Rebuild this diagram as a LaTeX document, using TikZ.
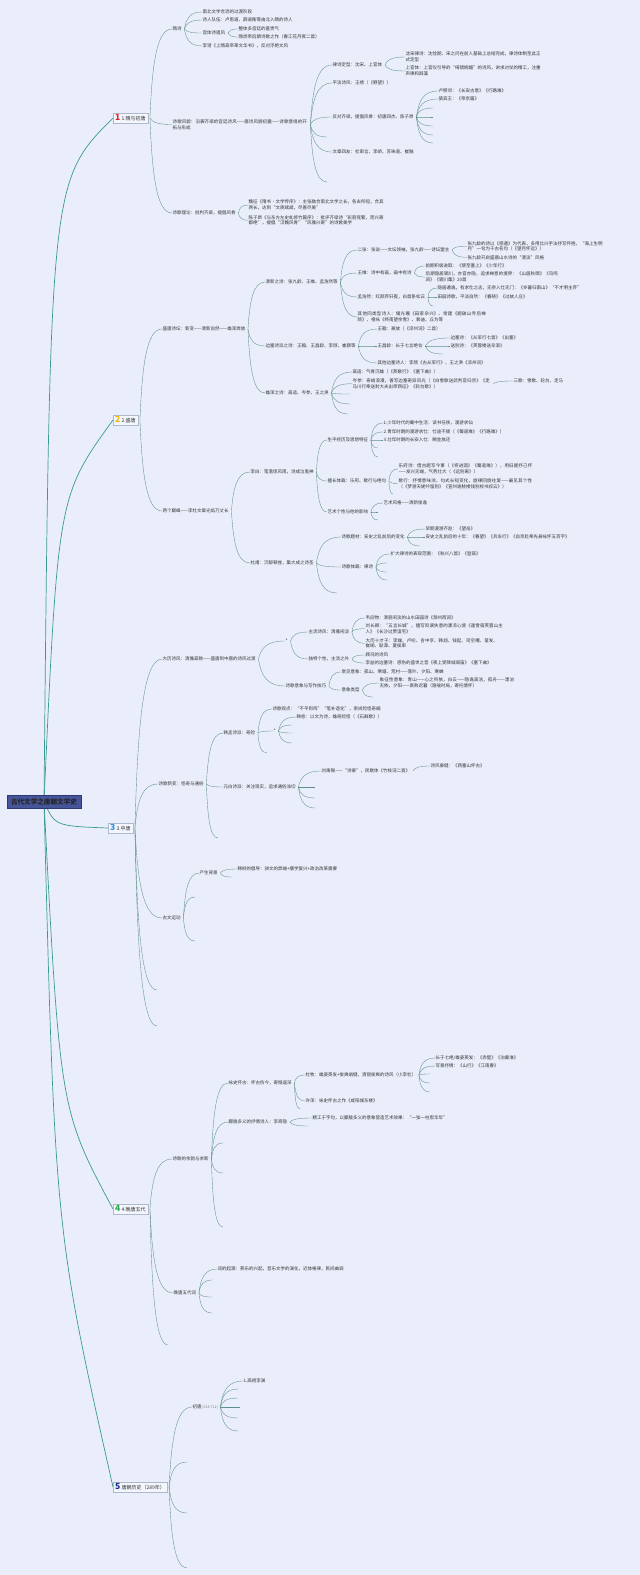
\documentclass[tikz,border=0pt]{standalone}
\usepackage{fontspec}
\setmainfont{Noto Sans CJK SC}
\XeTeXlinebreaklocale "zh"
\XeTeXlinebreakskip=0pt plus 1pt
\usetikzlibrary{calc}
\definecolor{bgc}{HTML}{E9EEFA}
\definecolor{subc}{HTML}{5E8F8B}
\definecolor{mainc}{HTML}{3A9A92}
\definecolor{txtc}{HTML}{333333}
\definecolor{boxf}{HTML}{F3F6FC}
\definecolor{boxd}{HTML}{AFB9CC}
\definecolor{rootf}{HTML}{46549A}
\definecolor{rootd}{HTML}{2C3775}
\definecolor{ca}{HTML}{E0262B}
\definecolor{cb}{HTML}{F2B705}
\definecolor{cc}{HTML}{2A8FE3}
\definecolor{cd}{HTML}{2FA84F}
\definecolor{ce}{HTML}{1D2C8F}
\pgfdeclarelayer{back}
\pgfdeclarelayer{lines}
\pgfsetlayers{back,lines,main}
\tikzset{
  tx/.style={anchor=west, inner sep=0.5pt, text=txtc, font=\fontsize{4.5}{5.6}\selectfont},
  tw/.style={tx, text width=#1, align=left},
  tw/.default=135pt,
  mainbox/.style={anchor=west, draw=boxd, fill=boxf, line width=0.4pt, inner xsep=2pt, inner ysep=1pt, minimum height=10pt, font=\fontsize{5}{6}\selectfont, text=txtc},
  rootbox/.style={draw=rootd, fill=rootf, line width=0.5pt, minimum width=74pt, minimum height=13pt, inner sep=1pt, font=\fontsize{6.6}{8}\selectfont\bfseries, text=black!85},
  subl/.style={draw=subc, line width=0.35pt},
  mainl/.style={draw=mainc, line width=0.7pt}
}
\newcommand\numicon[2]{{\color{#1}\fontsize{8.5}{8.5}\selectfont\bfseries #2}\hspace{1.2pt}}
\newcommand\fanm[2]{\begin{pgfonlayer}{lines}\foreach \cc in {#2}{\draw[subl] let \p1=([xshift=2pt]#1.east), \p2=(\cc) in (\p1) .. controls ({\x1+0.1*(\x2-\x1)},{\y1+0.6*(\y2-\y1)}) and ({\x1+0.3*(\x2-\x1)},\y2) .. (\p2);}\end{pgfonlayer}}
\begin{document}
\begin{tikzpicture}[x=1pt,y=-1pt]
\begin{pgfonlayer}{back}
\fill[bgc] (0,0) rectangle (640,1575);
\end{pgfonlayer}
\useasboundingbox (0,0) rectangle (640,1575);

% root and main nodes
\node[rootbox] (root) at (44,801.5) {古代文学之唐朝文学史};
\node[mainbox] (M1) at (113,118) {\numicon{ca}{1}1.隋与初唐};
\node[mainbox] (M2) at (113,420) {\numicon{cb}{2}2.盛唐};
\node[mainbox] (M3) at (108,828) {\numicon{cc}{3}3.中唐};
\node[mainbox] (M4) at (113,1209) {\numicon{cd}{4}4.晚唐五代};
\node[mainbox] (M5) at (113,1487) {\numicon{ce}{5}唐朝历史（289年）};

\begin{pgfonlayer}{lines}
\draw[mainl] (root.center) .. controls (50,181) .. (M1.west);
\draw[mainl] (root.center) .. controls (58,496) .. (M2.west);
\draw[mainl] (root.center) .. controls (55,826) .. (M3.west);
\draw[mainl] (root.center) .. controls (60,1110) .. (M4.west);
\draw[mainl] (root.center) .. controls (55,1230) .. (M5.west);
\end{pgfonlayer}

% ---------- 1 隋与初唐
\node[tx] (A1) at (172,29) {隋诗};
\node[tx] (A1a) at (202,12) {南北文学合流的过渡阶段};
\node[tx] (A1b) at (202,20) {诗人队伍：卢思道、薛道衡等由北入隋的诗人};
\node[tx] (A1c) at (202,33) {宫体诗遗风};
\node[tx] (A1c1) at (238,29) {整体多宫廷的富贵气};
\node[tx] (A1c2) at (238,37) {隋炀帝后期诗歌之作（春江花月夜二首）};
\node[tx] (A1d) at (202,46) {李谔《上隋高帝革文华书》，反对浮艳文风};
\node[tw] (A2) at (172,124.5) {诗歌风貌：沿袭齐梁的宫廷诗风——唐诗风貌初露——诗歌意境的开拓与形成};
\node[tx] (A2a) at (332,65) {律诗定型：沈宋、上官体};
\node[tw] (A2a1) at (405,57) {沈宋律诗：沈佺期、宋之问在前人基础上总结完成，律诗体制至此正式定型};
\node[tw] (A2a2) at (405,71) {上官体：上官仪引导的“绮错婉媚”的诗风，讲求对仗的精工，注重声律和辞藻};
\node[tx] (A2b) at (332,83) {平淡诗风：王绩（《野望》）};
\node[tx] (A2c) at (332,117) {反对齐梁，提倡风骨：初唐四杰、陈子昂};
\node[tx] (A2c1) at (438,91) {卢照邻：《长安古意》《行路难》};
\node[tx] (A2c2) at (438,99) {骆宾王：《帝京篇》};
\coordinate (A2cE1) at (433,108);
\coordinate (A2cE2) at (433,117);
\coordinate (A2cE3) at (433,126);
\coordinate (A2cE4) at (433,135);
\coordinate (A2cE5) at (433,143);
\node[tx] (A2d) at (332,152) {文章四友：杜审言、李峤、苏味道、崔融};
\coordinate (A2E1) at (327,137);
\coordinate (A2E2) at (327,182);
\node[tx] (A3) at (172,213) {诗歌理论：批判齐梁，提倡风骨};
\node[tw] (A3a) at (248,205) {魏征《隋书·文学传序》：主张融合南北文学之长，各去所短，合其两长，达到“文质斌斌，尽善尽美”};
\node[tw] (A3b) at (248,220.3) {陈子昂《与东方左史虬修竹篇序》：批评齐梁诗“彩丽竞繁，而兴寄都绝”，提倡“汉魏风骨”“风雅兴寄”的诗歌美学};

\fanm{M1}{A1.west,A2.west,A3.west}
\fanm{A1}{A1a.west,A1b.west,A1c.west,A1d.west}
\fanm{A1c}{A1c1.west,A1c2.west}
\fanm{A2}{A2a.west,A2b.west,A2c.west,A2E1,A2d.west,A2E2}
\fanm{A2a}{A2a1.west,A2a2.west}
\fanm{A2c}{A2c1.west,A2c2.west,A2cE1,A2cE2,A2cE3,A2cE4,A2cE5}
\fanm{A3}{A3a.west,A3b.west}

% ---------- 2 盛唐
\node[tx] (B1) at (162,329) {盛唐诗坛：新变——清新自然——雄浑奔放};
\node[tx] (B1a) at (265,282) {清新之诗：张九龄、王维、孟浩然等};
\node[tx] (B1a1) at (357,250) {二张：张说——文坛领袖，张九龄——诗坛盟主};
\node[tw] (B1a1a) at (467,246.2) {张九龄的诗以《感遇》为代表，多用比兴手法抒写怀抱，“海上生明月”一句为千古名句（《望月怀远》）};
\node[tx] (B1a1b) at (467,257.3) {张九龄开启盛唐山水诗的“清淡”风格};
\node[tx] (B1a2) at (357,273) {王维：诗中有画，画中有诗};
\node[tx] (B1a2a) at (425,266) {前期积极进取：《使至塞上》《少年行》};
\node[tw=133pt] (B1a2b) at (425,277) {后期隐居辋川，亦官亦隐，追求禅意的境界：《山居秋暝》《鸟鸣涧》《辋川集》20首};
\node[tx] (B1a3) at (357,297) {孟浩然：红颜弃轩冕，白首卧松云};
\node[tx] (B1a3a) at (437,288) {隐居遁逸，有求仕之志，无奈入仕无门：《岁暮归南山》“不才明主弃”};
\node[tx] (B1a3b) at (437,297) {田园诗歌，平淡自然：《春晓》《过故人庄》};
\coordinate (B1a3E) at (433,306);
\node[tw=131pt] (B1a4) at (357,317) {其他同类型诗人：储光羲《田家杂兴》、常建《题破山寺后禅院》、祖咏《终南望余雪》、裴迪、丘为等};
\node[tx] (B1b) at (265,346) {边塞诗派之诗：王翰、王昌龄、李颀、崔颢等};
\node[tx] (B1b1) at (377,329) {王翰：豪放（《凉州词》二首）};
\node[tx] (B1b2) at (377,346) {王昌龄：长于七言绝句};
\node[tx] (B1b2a) at (450,338) {边塞诗：《从军行七首》《出塞》};
\node[tx] (B1b2b) at (450,346) {送别诗：《芙蓉楼送辛渐》};
\coordinate (B1b2E) at (443,354);
\node[tx] (B1b3) at (377,363) {其他边塞诗人：李颀《古从军行》、王之涣《凉州词》};
\node[tx] (B1c) at (265,393) {雄浑之诗：高适、岑参、王之涣};
\node[tx] (B1c1) at (352,372) {高适：气骨沉雄（《燕歌行》《塞下曲》）};
\node[tw=138pt] (B1c2) at (352,383.7) {岑参：奇峭浪漫，善写边塞奇异风光（《白雪歌送武判官归京》《走马川行奉送封大夫出师西征》《轮台歌》）};
\node[tx] (B1c2a) at (513,381) {三歌：雪歌、轮台、走马};
\coordinate (B1cE1) at (350,394);
\coordinate (B1cE2) at (350,404);
\coordinate (B1cE3) at (348,414);

\node[tx] (B2) at (162,511) {两个巅峰——李杜文章光焰万丈长};
\node[tx] (B2a) at (250,472) {李白：笔落惊风雨，诗成泣鬼神};
\node[tx] (B2a1) at (327,440) {生平经历及思想特征};
\node[tx] (B2a1a) at (383,423) {1.少年时代的蜀中生活：读书任侠，漫游求仙};
\node[tx] (B2a1b) at (383,432) {2.青年时期的漫游求仕：仕途不顺（《蜀道难》《行路难》）};
\node[tx] (B2a1c) at (383,440) {3.壮年时期的长安入仕：赐金放还};
\coordinate (B2a1E1) at (378,448);
\coordinate (B2a1E2) at (378,457);
\node[tx] (B2a2) at (327,481) {擅长体裁：乐府、歌行与绝句};
\node[tw] (B2a2a) at (398,468.8) {乐府诗：借古题写今事（《将进酒》《蜀道难》），用旧题抒己怀——发兴无端，气势壮大（《远别离》）};
\node[tw] (B2a2b) at (398,483.5) {歌行：抒情意味浓，句式长短变化，旋律回旋往复——最见其个性（《梦游天姥吟留别》《宣州谢朓楼饯别校书叔云》）};
\coordinate (B2a2E) at (393,494);
\node[tx] (B2a3) at (327,512) {艺术个性与他的影响};
\node[tx] (B2a3a) at (383,503) {艺术风格——清新俊逸};
\coordinate (B2a3E1) at (378,512);
\coordinate (B2a3E2) at (378,520);
\node[tx] (B2b) at (250,563) {杜甫：沉郁顿挫，集大成之诗圣};
\node[tx] (B2b1) at (341,537) {诗歌题材：安史之乱前后的变化};
\node[tx] (B2b1a) at (425,529) {早期漫游齐赵：《望岳》};
\node[tx] (B2b1b) at (425,537) {安史之乱前后的十年：《春望》《兵车行》《自京赴奉先县咏怀五百字》};
\coordinate (B2b1E) at (420,546);
\node[tx] (B2b2) at (341,567) {诗歌体裁：律诗};
\node[tx] (B2b2a) at (390,554) {扩大律诗的表现范围：《秋兴八首》《登高》};
\coordinate (B2b2E1) at (387,563);
\coordinate (B2b2E2) at (387,572);
\coordinate (B2b2E3) at (387,580);
\coordinate (B2bE) at (337,593);

\fanm{M2}{B1.west,B2.west}
\fanm{B1}{B1a.west,B1b.west,B1c.west}
\fanm{B1a}{B1a1.west,B1a2.west,B1a3.west,B1a4.west}
\fanm{B1a1}{B1a1a.west,B1a1b.west}
\fanm{B1a2}{B1a2a.west,B1a2b.west}
\fanm{B1a3}{B1a3a.west,B1a3b.west,B1a3E}
\fanm{B1b}{B1b1.west,B1b2.west,B1b3.west}
\fanm{B1b2}{B1b2a.west,B1b2b.west,B1b2E}
\fanm{B1c}{B1c1.west,B1c2.west,B1cE1,B1cE2,B1cE3}
\fanm{B1c2}{B1c2a.west}
\fanm{B2}{B2a.west,B2b.west}
\fanm{B2a}{B2a1.west,B2a2.west,B2a3.west}
\fanm{B2a1}{B2a1a.west,B2a1b.west,B2a1c.west,B2a1E1,B2a1E2}
\fanm{B2a2}{B2a2a.west,B2a2b.west,B2a2E}
\fanm{B2a3}{B2a3a.west,B2a3E1,B2a3E2}
\fanm{B2b}{B2b1.west,B2b2.west,B2bE}
\fanm{B2b1}{B2b1a.west,B2b1b.west,B2b1E}
\fanm{B2b2}{B2b2a.west,B2b2E1,B2b2E2,B2b2E3}

% ---------- 3 中唐
\node[tx] (C1) at (162,659) {大历诗风：清雅高致——盛唐到中唐的诗风过渡};
\node[tx] (C1a) at (285,641) {*};
\node[tx] (C1a1) at (308,632) {主流诗风：清雅闲淡};
\node[tx] (C1a1a) at (365,618) {韦应物：清丽闲淡的山水田园诗《滁州西涧》};
\node[tw=138pt] (C1a1b) at (365,628.7) {刘长卿：“五言长城”，擅写贬谪失意的凄凉心境《逢雪宿芙蓉山主人》《长沙过贾谊宅》};
\node[tw=133pt] (C1a1c) at (365,643.3) {大历十才子：李端、卢纶、吉中孚、韩翃、钱起、司空曙、苗发、崔峒、耿湋、夏侯审};
\node[tx] (C1a2) at (308,659) {独特个性，主流之外};
\node[tx] (C1a2a) at (365,655) {顾况的诗风};
\node[tx] (C1a2b) at (365,663) {李益的边塞诗：感伤的盛世之音《夜上受降城闻笛》《塞下曲》};
\node[tx] (C1b) at (285,686) {诗歌意象与写作技巧};
\node[tx] (C1b1) at (341,672) {常见意象：孤山、寒塘、荒村——落叶、夕阳、寒蝉};
\node[tx] (C1b2) at (341,690) {意象类型};
\node[tw=136pt] (C1b2a) at (379,683) {象征性意象：青山——心之所依，白云——隐逸高洁，孤舟——漂泊无依，夕阳——衰败迟暮（隐喻时局，寄托情怀）};
\coordinate (C1b2E) at (373,697);

\node[tx] (C2) at (158,784) {诗歌新变：怪奇与通俗};
\node[tx] (C2a) at (223,733) {韩孟诗派：奇险};
\node[tx] (C2a1) at (272,709) {诗歌观点：“不平则鸣”“笔补造化”，崇尚险怪奇崛};
\node[tx] (C2a2) at (273,731) {*};
\node[tx] (C2a2a) at (296,717) {韩愈：以文为诗，雄奇险怪（《石鼓歌》）};
\coordinate (C2a2E1) at (292,725);
\coordinate (C2a2E2) at (292,733);
\coordinate (C2a2E3) at (292,743);
\coordinate (C2aE) at (267,753);
\node[tx] (C2b) at (223,787) {元白诗派：关注现实，追求通俗浅切};
\node[tx] (C2b1) at (321,771) {刘禹锡——“诗豪”，民歌体《竹枝词二首》};
\node[tx] (C2b1a) at (430,766) {诗风豪健：《西塞山怀古》};
\coordinate (C2bE1) at (315,787);
\coordinate (C2bE2) at (315,798);
\coordinate (C2bE3) at (315,808);
\coordinate (C2E) at (218,838);

\node[tx] (C3) at (162,918) {古文运动};
\node[tx] (C3a) at (199,873) {产生背景};
\node[tx] (C3a1) at (237,869) {韩柳的倡导：骈文的弊端+儒学复兴+政治改革需要};
\coordinate (C3aE) at (232,877);
\coordinate (C3E1) at (195,897);
\coordinate (C3E2) at (195,941);
\coordinate (M3E1) at (157,990);
\coordinate (M3E2) at (157,1026);

\fanm{M3}{C1.west,C2.west,C3.west,M3E1,M3E2}
\fanm{C1}{C1a.west,C1b.west}
\fanm{C1a}{C1a1.west,C1a2.west}
\fanm{C1a1}{C1a1a.west,C1a1b.west,C1a1c.west}
\fanm{C1a2}{C1a2a.west,C1a2b.west}
\fanm{C1b}{C1b1.west,C1b2.west}
\fanm{C1b2}{C1b2a.west,C1b2E}
\fanm{C2}{C2a.west,C2b.west,C2E}
\fanm{C2a}{C2a1.west,C2a2.west,C2aE}
\fanm{C2a2}{C2a2a.west,C2a2E1,C2a2E2,C2a2E3}
\fanm{C2b}{C2b1.west,C2bE1,C2bE2,C2bE3}
\fanm{C2b1}{C2b1a.west}
\fanm{C3}{C3a.west,C3E1,C3E2}
\fanm{C3a}{C3a1.west,C3aE}

% ---------- 4 晚唐五代
\node[tx] (D1) at (172,1159) {诗歌的余韵与求新};
\node[tx] (D1a) at (228,1083) {咏史怀古：怀古伤今，寄慨遥深};
\node[tx] (D1a1) at (305,1075) {杜牧：雄姿英发+俊爽峭健，清丽俊爽的诗风（小李杜）};
\node[tx] (D1a1a) at (435,1058) {长于七绝/雄姿英发：《赤壁》《泊秦淮》};
\node[tx] (D1a1b) at (435,1066) {写景抒情：《山行》《江南春》};
\coordinate (D1a1E1) at (430,1074);
\coordinate (D1a1E2) at (430,1083);
\coordinate (D1a1E3) at (430,1092);
\node[tx] (D1a2) at (305,1101) {许浑：咏史怀古之作《咸阳城东楼》};
\coordinate (D1aE) at (300,1109);
\node[tx] (D1b) at (228,1122) {朦胧多义的抒情诗人：李商隐};
\node[tx] (D1b1) at (312,1118) {精工于字句，以朦胧多义的意象营造艺术效果：“一弦一柱思华年”};
\coordinate (D1bE) at (308,1126);
\coordinate (D1E1) at (223,1143);
\coordinate (D1E2) at (223,1173);
\coordinate (D1E3) at (223,1227);
\node[tx] (D2) at (173,1293) {晚唐五代词};
\node[tx] (D2a) at (217,1269) {词的起源：燕乐的兴起，音乐文学的演化，近体格律，民间曲调};
\coordinate (D2E1) at (212,1280);
\coordinate (D2E2) at (212,1297);
\coordinate (D2E3) at (212,1313);
\coordinate (M4E) at (168,1345);

\fanm{M4}{D1.west,D2.west,M4E}
\fanm{D1}{D1a.west,D1b.west,D1E1,D1E2,D1E3}
\fanm{D1a}{D1a1.west,D1a2.west,D1aE}
\fanm{D1a1}{D1a1a.west,D1a1b.west,D1a1E1,D1a1E2,D1a1E3}
\fanm{D1b}{D1b1.west,D1bE}
\fanm{D2}{D2a.west,D2E1,D2E2,D2E3}

% ---------- 5 唐朝历史
\node[tx] (E1) at (192,1407) {初唐\,{\color{gray}\fontsize{3.5}{4}\selectfont [618-712]}};
\node[tx] (E1a) at (243,1381) {1.高祖李渊};
\coordinate (E1E1) at (238,1389);
\coordinate (E1E2) at (238,1398);
\coordinate (E1E3) at (240,1407);
\coordinate (E1E4) at (238,1418);
\coordinate (E1E5) at (238,1431);
\coordinate (M5E1) at (187,1462);
\coordinate (M5E2) at (187,1513);
\coordinate (M5E3) at (187,1568);

\fanm{M5}{E1.west,M5E1,M5E2,M5E3}
\fanm{E1}{E1a.west,E1E1,E1E2,E1E3,E1E4,E1E5}
\end{tikzpicture}
\end{document}
